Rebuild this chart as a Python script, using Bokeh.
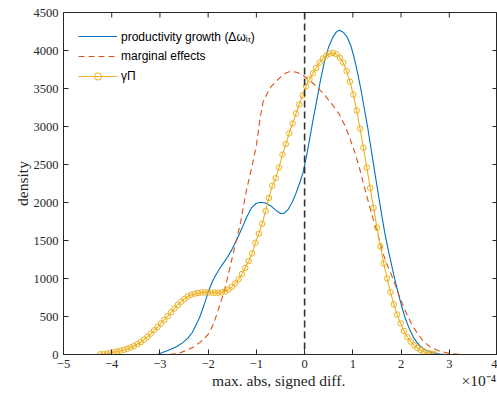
import math
from bokeh.plotting import figure
from bokeh.models import Span, FixedTicker, Range1d
from bokeh.embed import file_html
from bokeh.resources import INLINE

# ---------------- data (x in units of 1e-4) ----------------
prod_x = [-3.05, -2.95, -2.85, -2.75, -2.65, -2.52, -2.42, -2.33, -2.25, -2.17,
          -2.08, -2.00, -1.92, -1.83, -1.72, -1.60, -1.50, -1.40, -1.30, -1.20,
          -1.10, -1.00, -0.90, -0.80, -0.70, -0.60, -0.50, -0.42, -0.34, -0.26,
          -0.18, -0.10, -0.03, 0.03, 0.10, 0.17, 0.24, 0.32, 0.41, 0.50,
          0.59, 0.66, 0.72, 0.80, 0.88, 0.96, 1.03, 1.10, 1.17, 1.24,
          1.31, 1.38, 1.45, 1.52, 1.59, 1.66, 1.73, 1.80, 1.87, 1.94,
          2.01, 2.08, 2.17, 2.27, 2.38, 2.50, 2.66, 2.80, 2.95]
prod_y = [0, 25, 50, 75, 105, 160, 215, 290, 390, 500,
          660, 820, 950, 1060, 1170, 1280, 1390, 1520, 1660, 1810,
          1930, 1990, 2004, 1990, 1955, 1900, 1855, 1860, 1910, 2000,
          2120, 2260, 2400, 2580, 2820, 3070, 3300, 3580, 3850, 4050,
          4180, 4245, 4265, 4240, 4180, 4060, 3900, 3700, 3480, 3230,
          2980, 2700, 2420, 2140, 1870, 1610, 1390, 1190, 990, 810,
          640, 490, 340, 210, 120, 60, 22, 6, 0]

marg_x = [-2.80, -2.70, -2.59, -2.45, -2.30, -2.17, -2.05, -1.97, -1.88, -1.79,
          -1.66, -1.55, -1.45, -1.34, -1.21, -1.10, -1.00, -0.93, -0.86, -0.78,
          -0.70, -0.60, -0.50, -0.40, -0.28, -0.15, -0.03, 0.10, 0.24, 0.38,
          0.52, 0.62, 0.72, 0.83, 0.93, 1.03, 1.14, 1.24, 1.33, 1.41,
          1.52, 1.62, 1.72, 1.83, 1.95, 2.10, 2.25, 2.45, 2.60, 2.79,
          3.00, 3.20]
marg_y = [0, 8, 20, 55, 100, 160, 230, 290, 420, 590,
          850, 1140, 1410, 1700, 2150, 2450, 2750, 3080, 3330, 3430,
          3520, 3590, 3650, 3700, 3728, 3710, 3671, 3610, 3530, 3440,
          3330, 3250, 3160, 3020, 2860, 2680, 2450, 2200, 1990, 1807,
          1580, 1340, 1170, 1000, 790, 555, 360, 184, 100, 45,
          15, 3]

gamma_x = [-4.24, -4.17, -4.10, -4.03, -3.96, -3.89, -3.82, -3.75, -3.68, -3.61,
           -3.54, -3.47, -3.40, -3.33, -3.26, -3.19, -3.12, -3.05, -2.98, -2.91,
           -2.84, -2.77, -2.70, -2.63, -2.56, -2.49, -2.42, -2.35, -2.28, -2.21,
           -2.14, -2.07, -2.00, -1.93, -1.86, -1.79, -1.72, -1.65, -1.58, -1.51,
           -1.44, -1.37, -1.30, -1.23, -1.16, -1.09, -1.02, -0.95, -0.88, -0.81,
           -0.74, -0.67, -0.60, -0.53, -0.46, -0.39, -0.32, -0.25, -0.18, -0.11,
           -0.04, 0.03, 0.10, 0.17, 0.24, 0.31, 0.38, 0.45, 0.52, 0.59,
           0.66, 0.73, 0.80, 0.87, 0.94, 1.01, 1.08, 1.15, 1.22, 1.29,
           1.36, 1.43, 1.50, 1.57, 1.64, 1.71, 1.78, 1.85, 1.92, 1.99,
           2.06, 2.13, 2.20, 2.27, 2.34, 2.41, 2.48, 2.55, 2.62, 2.69]
gamma_y = [2, 6, 12, 20, 30, 40, 50, 62, 76, 92,
           112, 135, 162, 195, 232, 275, 318, 362, 408, 455,
           505, 555, 605, 652, 695, 732, 762, 785, 800, 810,
           815, 817, 817, 815, 813, 813, 818, 830, 855, 890,
           935, 990, 1060, 1140, 1230, 1330, 1470, 1590, 1720, 1890,
           2060, 2220, 2320, 2460, 2630, 2770, 2910, 3040, 3170, 3290,
           3410, 3530, 3620, 3700, 3770, 3840, 3895, 3935, 3958, 3968,
           3950, 3905, 3840, 3730, 3590, 3420, 3210, 2970, 2720, 2460,
           2190, 1930, 1670, 1425, 1200, 1000, 820, 660, 525, 410,
           310, 230, 170, 122, 85, 57, 37, 22, 12, 5]

x_ticks = [-5, -4, -3, -2, -1, 0, 1, 2, 3, 4]
y_ticks = [0, 500, 1000, 1500, 2000, 2500, 3000, 3500, 4000, 4500]
x_min, x_max = -5, 4
y_min, y_max = 0, 4500

label_prod = "productivity growth (Δωᵢₜ)"
label_marg = "marginal effects"
label_gamma = "γΠ"
x_title = "max. abs, signed diff."
x_exponent = "×10⁻⁴"
y_title = "density"

# ---------------- figure ----------------
BLUE = "#0072BD"
RED = "#D95319"
YEL = "#EDB120"
AX = "#262626"
SERIF = "Liberation Serif"
SANS = "Liberation Sans"
NBSP = "\u00a0"

# the exponent shares the x-label's baseline; non-breaking spaces keep the
# title centred under the frame while pushing the exponent to the right end
x_label_text = NBSP * 38 + x_title + NBSP * 30 + x_exponent

p = figure(width=497, height=394, output_backend="svg", toolbar_location=None,
           x_range=Range1d(x_min, x_max), y_range=Range1d(y_min, y_max),
           min_border_left=63, min_border_right=0, min_border_top=12,
           min_border_bottom=40, x_axis_label=x_label_text,
           y_axis_label=y_title)
p.grid.visible = False
p.outline_line_color = AX
p.outline_line_width = 1
p.background_fill_color = "white"
p.border_fill_color = "white"

for ax in (p.xaxis[0], p.yaxis[0]):
    ax.major_tick_in = 5
    ax.major_tick_out = 0
    ax.minor_tick_line_color = None
    ax.axis_line_color = AX
    ax.major_tick_line_color = AX
    ax.major_label_text_font = SERIF
    ax.major_label_text_font_size = "12.5px"
    ax.major_label_text_color = AX
    ax.axis_label_text_font = SERIF
    ax.axis_label_text_font_size = "15.5px"
    ax.axis_label_text_font_style = "normal"
    ax.axis_label_text_color = AX

p.xaxis[0].ticker = FixedTicker(ticks=x_ticks)
p.yaxis[0].ticker = FixedTicker(ticks=y_ticks)
p.xaxis[0].major_label_standoff = 5
p.xaxis[0].axis_label_standoff = 1
p.yaxis[0].major_label_standoff = 5
p.yaxis[0].axis_label_standoff = 0

# inward ticks on the top and right frame edges (box on)
p.ray(x=x_ticks, y=[y_max] * len(x_ticks), length=5, length_units="screen",
      angle=-math.pi / 2, line_color=AX, line_width=1)
p.ray(x=[x_max] * len(y_ticks), y=y_ticks, length=5, length_units="screen",
      angle=math.pi, line_color=AX, line_width=1)

p.line(prod_x, prod_y, line_color=BLUE, line_width=1.1, legend_label=label_prod)
p.line(marg_x, marg_y, line_color=RED, line_width=1.1, line_dash="6 4",
       legend_label=label_marg)
p.line(gamma_x, gamma_y, line_color=YEL, line_width=1.1, legend_label=label_gamma)
p.scatter(gamma_x, gamma_y, marker="circle", size=5.5, line_color=YEL,
          fill_color=None, line_width=1, legend_label=label_gamma)

p.add_layout(Span(location=0, dimension="height", line_color="#333333",
                  line_width=1.6, line_dash="7 4"))

lg = p.legend[0]
lg.location = "top_left"
lg.margin = 10
lg.padding = 5
lg.spacing = 2
lg.glyph_width = 39
lg.glyph_height = 18
lg.label_standoff = 4
lg.label_text_font = SANS
lg.label_text_font_size = "12px"
lg.label_text_color = "#000000"
lg.border_line_alpha = 0
lg.background_fill_alpha = 0

open("out.html", "w").write(file_html(p, INLINE))
